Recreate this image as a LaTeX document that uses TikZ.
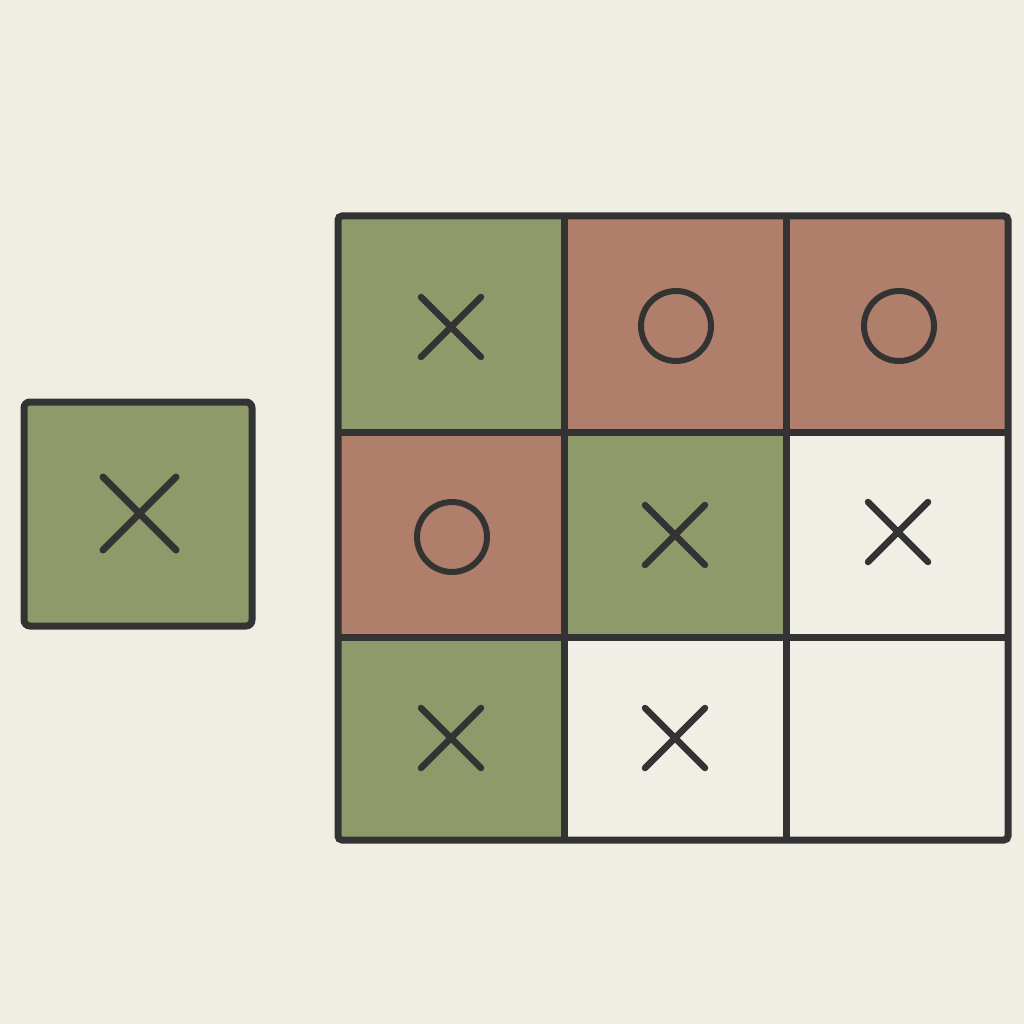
\documentclass[tikz,border=0pt]{standalone}
\begin{document}
\definecolor{bgc}{HTML}{F0EEE3}
\definecolor{grn}{HTML}{8E9A6A}
\definecolor{rdc}{HTML}{B07F6C}
\definecolor{wht}{HTML}{F1EFE5}
\definecolor{ink}{HTML}{333333}
\begin{tikzpicture}[x=1pt,y=-1pt,
  gridline/.style={draw=ink,line width=7pt},
  markx/.style={draw=ink,line width=6.5pt,line cap=round},
  markbig/.style={draw=ink,line width=7pt,line cap=round},
  marko/.style={draw=ink,line width=6pt}]
\fill[bgc] (0,0) rectangle (1024,1024);
\useasboundingbox (0,0) rectangle (1024,1024);
% single square
\draw[gridline,fill=grn,rounded corners=6pt] (24,402) rectangle (252,626);
\draw[markbig] (103,477) -- (176,550);
\draw[markbig] (176,477) -- (103,550);
% grid cells
\fill[grn] (338,216) rectangle (564,432);
\fill[rdc] (564,216) rectangle (786,432);
\fill[rdc] (786,216) rectangle (1008,432);
\fill[rdc] (338,432) rectangle (564,637);
\fill[grn] (564,432) rectangle (786,637);
\fill[wht] (786,432) rectangle (1008,637);
\fill[grn] (338,637) rectangle (564,840);
\fill[wht] (564,637) rectangle (786,840);
\fill[wht] (786,637) rectangle (1008,840);
% grid lines
\draw[gridline] (564,216) -- (564,840);
\draw[gridline] (786,216) -- (786,840);
\draw[gridline] (338,432) -- (1008,432);
\draw[gridline] (338,637) -- (1008,637);
\draw[gridline,rounded corners=4pt] (338,216) rectangle (1008,840);
% marks
\foreach \cx/\cy in {451/327, 675/535, 898/532, 451/738, 675/738}{
  \draw[markx] (\cx-30,\cy-30) -- (\cx+30,\cy+30);
  \draw[markx] (\cx+30,\cy-30) -- (\cx-30,\cy+30);
}
\foreach \cx/\cy in {676/326, 899/326, 452/537}{
  \draw[marko] (\cx,\cy) circle (35);
}
\end{tikzpicture}
\end{document}
